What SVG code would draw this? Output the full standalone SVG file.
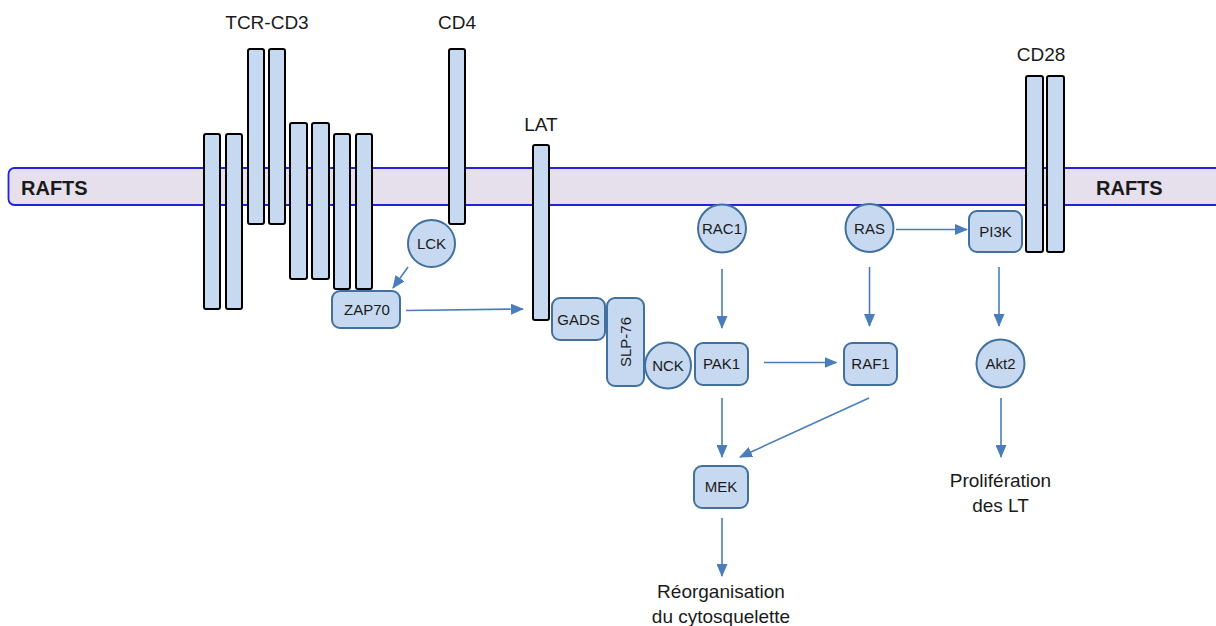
<svg xmlns="http://www.w3.org/2000/svg" width="1216" height="626" viewBox="0 0 1216 626">
<style>
text{font-family:"Liberation Sans",Arial,sans-serif;fill:#1a1a1a}
.lbl{font-size:19px;text-anchor:middle}
.nt{font-size:15px;text-anchor:middle}
.raft{font-size:20px;font-weight:bold}
.bar{fill:#c6d9f0;stroke:#000;stroke-width:2}
.nd{fill:#c6d9f0;stroke:#41719c;stroke-width:2}
.cn{stroke:#4a7ebb;stroke-width:1.6;fill:none;marker-end:url(#ah)}
</style>
<defs>
<marker id="ah" viewBox="0 0 13 11" refX="12" refY="5.5" markerWidth="13" markerHeight="11" markerUnits="userSpaceOnUse" orient="auto">
<path d="M0,0 L13,5.5 L0,11 Z" fill="#4a7ebb"/>
</marker>
</defs>
<rect width="1216" height="626" fill="#fff"/>
<g id="membrane">
<rect x="8.5" y="168" width="1220" height="37" rx="6" fill="#e6e0ec" stroke="#2222dd" stroke-width="1.8"/>
<text class="raft" x="21" y="195">RAFTS</text>
<text class="raft" x="1096" y="195">RAFTS</text>
</g>
<g id="tcr-cd3">
<rect class="bar" x="204" y="134" width="16" height="175" rx="2"/>
<rect class="bar" x="226" y="134" width="16" height="175" rx="2"/>
<rect class="bar" x="248" y="49" width="16" height="175" rx="2"/>
<rect class="bar" x="269" y="49" width="16" height="175" rx="2"/>
<rect class="bar" x="290" y="123" width="17" height="156" rx="2"/>
<rect class="bar" x="312" y="123" width="17" height="156" rx="2"/>
<rect class="bar" x="334" y="134" width="16" height="155" rx="2"/>
<rect class="bar" x="356" y="134" width="16" height="155" rx="2"/>
<text class="lbl" x="267" y="29">TCR-CD3</text>
</g>
<g id="cd4">
<rect class="bar" x="449" y="49" width="16" height="175" rx="2"/>
<text class="lbl" x="457" y="29">CD4</text>
</g>
<g id="lat">
<rect class="bar" x="533" y="145" width="16" height="175" rx="2"/>
<text class="lbl" x="541" y="131">LAT</text>
</g>
<g id="cd28">
<rect class="bar" x="1026" y="76" width="17" height="176" rx="2"/>
<rect class="bar" x="1047" y="76" width="17" height="176" rx="2"/>
<text class="lbl" x="1041" y="61">CD28</text>
</g>
<g id="lck">
<circle class="nd" cx="431.5" cy="243.5" r="23.5"/>
<text class="nt" x="431.5" y="249">LCK</text>
</g>
<g id="zap70">
<rect class="nd" x="332" y="291" width="68" height="37" rx="8"/>
<text class="nt" x="367" y="315">ZAP70</text>
</g>
<g id="gads">
<rect class="nd" x="552" y="298" width="53" height="42" rx="8"/>
<text class="nt" x="578.5" y="324.5">GADS</text>
</g>
<g id="slp76">
<rect class="nd" x="607" y="298" width="37" height="88" rx="8"/>
<text class="nt" transform="translate(630.5,342) rotate(-90)" x="0" y="0">SLP-76</text>
</g>
<g id="nck">
<circle class="nd" cx="668" cy="365.5" r="23"/>
<text class="nt" x="668" y="371">NCK</text>
</g>
<g id="rac1">
<circle class="nd" cx="722" cy="228.5" r="24"/>
<text class="nt" x="722" y="234">RAC1</text>
</g>
<g id="ras">
<circle class="nd" cx="869.5" cy="228" r="24"/>
<text class="nt" x="869.5" y="233.5">RAS</text>
</g>
<g id="pi3k">
<rect class="nd" x="969" y="211" width="53" height="41" rx="8"/>
<text class="nt" x="995.5" y="237">PI3K</text>
</g>
<g id="pak1">
<rect class="nd" x="695" y="343" width="53" height="42" rx="8"/>
<text class="nt" x="721.5" y="369">PAK1</text>
</g>
<g id="raf1">
<rect class="nd" x="844" y="343" width="53" height="42" rx="8"/>
<text class="nt" x="870.5" y="369">RAF1</text>
</g>
<g id="akt2">
<circle class="nd" cx="1000.5" cy="363.5" r="24"/>
<text class="nt" x="1000.5" y="369">Akt2</text>
</g>
<g id="mek">
<rect class="nd" x="694" y="466" width="54" height="42" rx="8"/>
<text class="nt" x="721" y="492">MEK</text>
</g>
<g id="outputs">
<text class="lbl" x="721" y="598">Réorganisation</text>
<text class="lbl" x="721" y="623">du cytosquelette</text>
<text class="lbl" x="1000.5" y="487">Prolifération</text>
<text class="lbl" x="1000.5" y="512">des LT</text>
</g>
<g id="connectors">
<line class="cn" x1="408" y1="267" x2="393" y2="288"/>
<line class="cn" x1="406" y1="310.5" x2="523" y2="309"/>
<line class="cn" x1="722" y1="269" x2="722" y2="328"/>
<line class="cn" x1="869.5" y1="267" x2="869.5" y2="326"/>
<line class="cn" x1="764" y1="362.5" x2="836.5" y2="362.5"/>
<line class="cn" x1="896" y1="229.5" x2="967" y2="229.5"/>
<line class="cn" x1="999" y1="267" x2="999" y2="326"/>
<line class="cn" x1="722" y1="398" x2="722" y2="457"/>
<line class="cn" x1="869" y1="398" x2="740" y2="457"/>
<line class="cn" x1="1001" y1="398" x2="1001" y2="457"/>
<line class="cn" x1="722" y1="518" x2="722" y2="576"/>
</g>
</svg>
